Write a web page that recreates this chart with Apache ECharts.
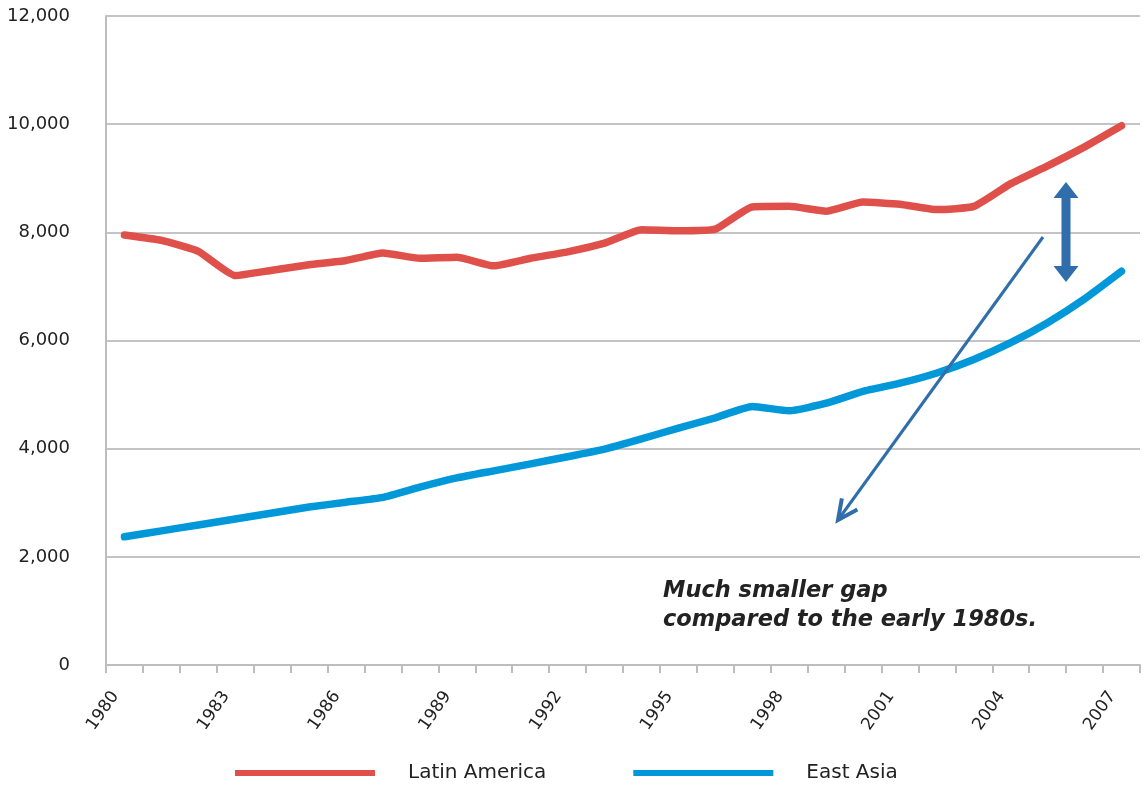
<!DOCTYPE html>
<html>
<head>
<meta charset="utf-8">
<script src="https://cdn.jsdelivr.net/npm/echarts@6/dist/echarts.min.js"></script>
<style>
  html, body { margin: 0; padding: 0; background: #ffffff; }
  #chart { width: 1146px; height: 785px; }
</style>
</head>
<body>
<div id="chart"></div>
<script>
// GDP per capita, 1980–2007
const years = [
  '1980','1981','1982','1983','1984','1985','1986','1987','1988','1989',
  '1990','1991','1992','1993','1994','1995','1996','1997','1998','1999',
  '2000','2001','2002','2003','2004','2005','2006','2007'
];
const latinAmerica = [
  7950, 7850, 7650, 7200, 7300, 7400, 7480, 7620, 7520, 7540,
  7380, 7520, 7640, 7800, 8050, 8030, 8060, 8470, 8480, 8390,
  8560, 8520, 8420, 8480, 8900, 9230, 9580, 9970
];
const eastAsia = [
  2370, 2480, 2590, 2700, 2810, 2920, 3010, 3100, 3290, 3460,
  3590, 3720, 3850, 3990, 4180, 4380, 4570, 4780, 4700, 4840,
  5060, 5210, 5400, 5650, 5960, 6330, 6770, 7280
];
const yTicks = { min: 0, max: 12000, step: 2000 };
const noteText = 'Much smaller gap\ncompared to the early 1980s.';

const FONT = '"DejaVu Sans", sans-serif';
const RED = '#E0504A';
const BLUE = '#0098D8';
const ARROW = '#2F6EAA';
const GRID_GRAY = '#C4C4C4';

const chart = echarts.init(document.getElementById('chart'), null, { renderer: 'canvas' });

// Thick double-headed arrow (vertical), built as a polygon
function doubleArrow(cx, y1, y2, shaft, head, headLen) {
  const s = shaft / 2, h = head / 2;
  return [
    [cx, y1], [cx + h, y1 + headLen], [cx + s, y1 + headLen],
    [cx + s, y2 - headLen], [cx + h, y2 - headLen], [cx, y2],
    [cx - h, y2 - headLen], [cx - s, y2 - headLen], [cx - s, y1 + headLen],
    [cx - h, y1 + headLen]
  ];
}

// Open arrowhead lines for a straight arrow from (x1,y1) to (x2,y2)
function arrowHead(x1, y1, x2, y2, len, ang) {
  const a = Math.atan2(y1 - y2, x1 - x2);
  return [
    [x2 + len * Math.cos(a + ang), y2 + len * Math.sin(a + ang)],
    [x2, y2],
    [x2 + len * Math.cos(a - ang), y2 + len * Math.sin(a - ang)]
  ];
}

const option = {
  backgroundColor: '#ffffff',
  animation: false,
  grid: { left: 106, right: 6, top: 16, bottom: 120, containLabel: false },
  legend: {
    left: 230,
    top: 758,
    icon: 'rect',
    itemWidth: 140,
    itemHeight: 6,
    itemGap: 87,
    textStyle: {
      fontFamily: FONT,
      fontSize: 20,
      color: '#222222',
      padding: [0, 0, 0, 28]
    },
    data: ['Latin America', 'East Asia']
  },
  xAxis: {
    type: 'category',
    data: years,
    boundaryGap: true,
    axisLine: { lineStyle: { color: '#BDBDBD', width: 2 } },
    axisTick: { show: true, length: 8, interval: 0, lineStyle: { color: '#BDBDBD', width: 2 } },
    axisLabel: {
      interval: 2,
      rotate: 55,
      margin: 15,
      fontFamily: FONT,
      fontSize: 17,
      color: '#222222',
      // trailing spacer pulls each rotated year label down and left of its tick
      formatter: v => v + '{gap|}',
      rich: { gap: { width: 16 } }
    },
    splitLine: { show: false }
  },
  yAxis: {
    type: 'value',
    min: yTicks.min,
    max: yTicks.max,
    interval: yTicks.step,
    axisLine: { show: true, lineStyle: { color: '#BDBDBD', width: 2 } },
    axisTick: { show: false },
    axisLabel: {
      margin: 36,
      fontFamily: FONT,
      fontSize: 18,
      color: '#222222',
      formatter: v => v.toLocaleString('en-US')
    },
    splitLine: { lineStyle: { color: GRID_GRAY, width: 2 } }
  },
  series: [
    {
      name: 'Latin America',
      type: 'line',
      data: latinAmerica,
      symbol: 'none',
      smooth: 0.15,
      color: RED,
      lineStyle: { width: 7.5, color: RED, cap: 'round', join: 'round' }
    },
    {
      name: 'East Asia',
      type: 'line',
      data: eastAsia,
      symbol: 'none',
      smooth: 0.15,
      color: BLUE,
      lineStyle: { width: 7.5, color: BLUE, cap: 'round', join: 'round' }
    }
  ],
  graphic: [
    {
      type: 'polygon',
      shape: { points: doubleArrow(1066, 182, 282, 9, 25, 16) },
      style: { fill: ARROW },
      z: 100
    },
    {
      type: 'line',
      shape: { x1: 1043, y1: 237, x2: 838, y2: 520 },
      style: { stroke: ARROW, lineWidth: 3 },
      z: 100
    },
    {
      type: 'polyline',
      shape: { points: arrowHead(1043, 237, 838, 520, 22, 0.45) },
      style: { stroke: ARROW, lineWidth: 4, fill: null, lineJoin: 'miter' },
      z: 100
    },
    {
      type: 'text',
      x: 663,
      y: 606,
      style: {
        text: noteText,
        fontFamily: FONT,
        fontSize: 22.5,
        fontWeight: 'bold',
        fontStyle: 'italic',
        lineHeight: 29,
        fill: '#222222',
        textAlign: 'left',
        textVerticalAlign: 'middle'
      },
      z: 100
    }
  ]
};

chart.setOption(option);
</script>
</body>
</html>
